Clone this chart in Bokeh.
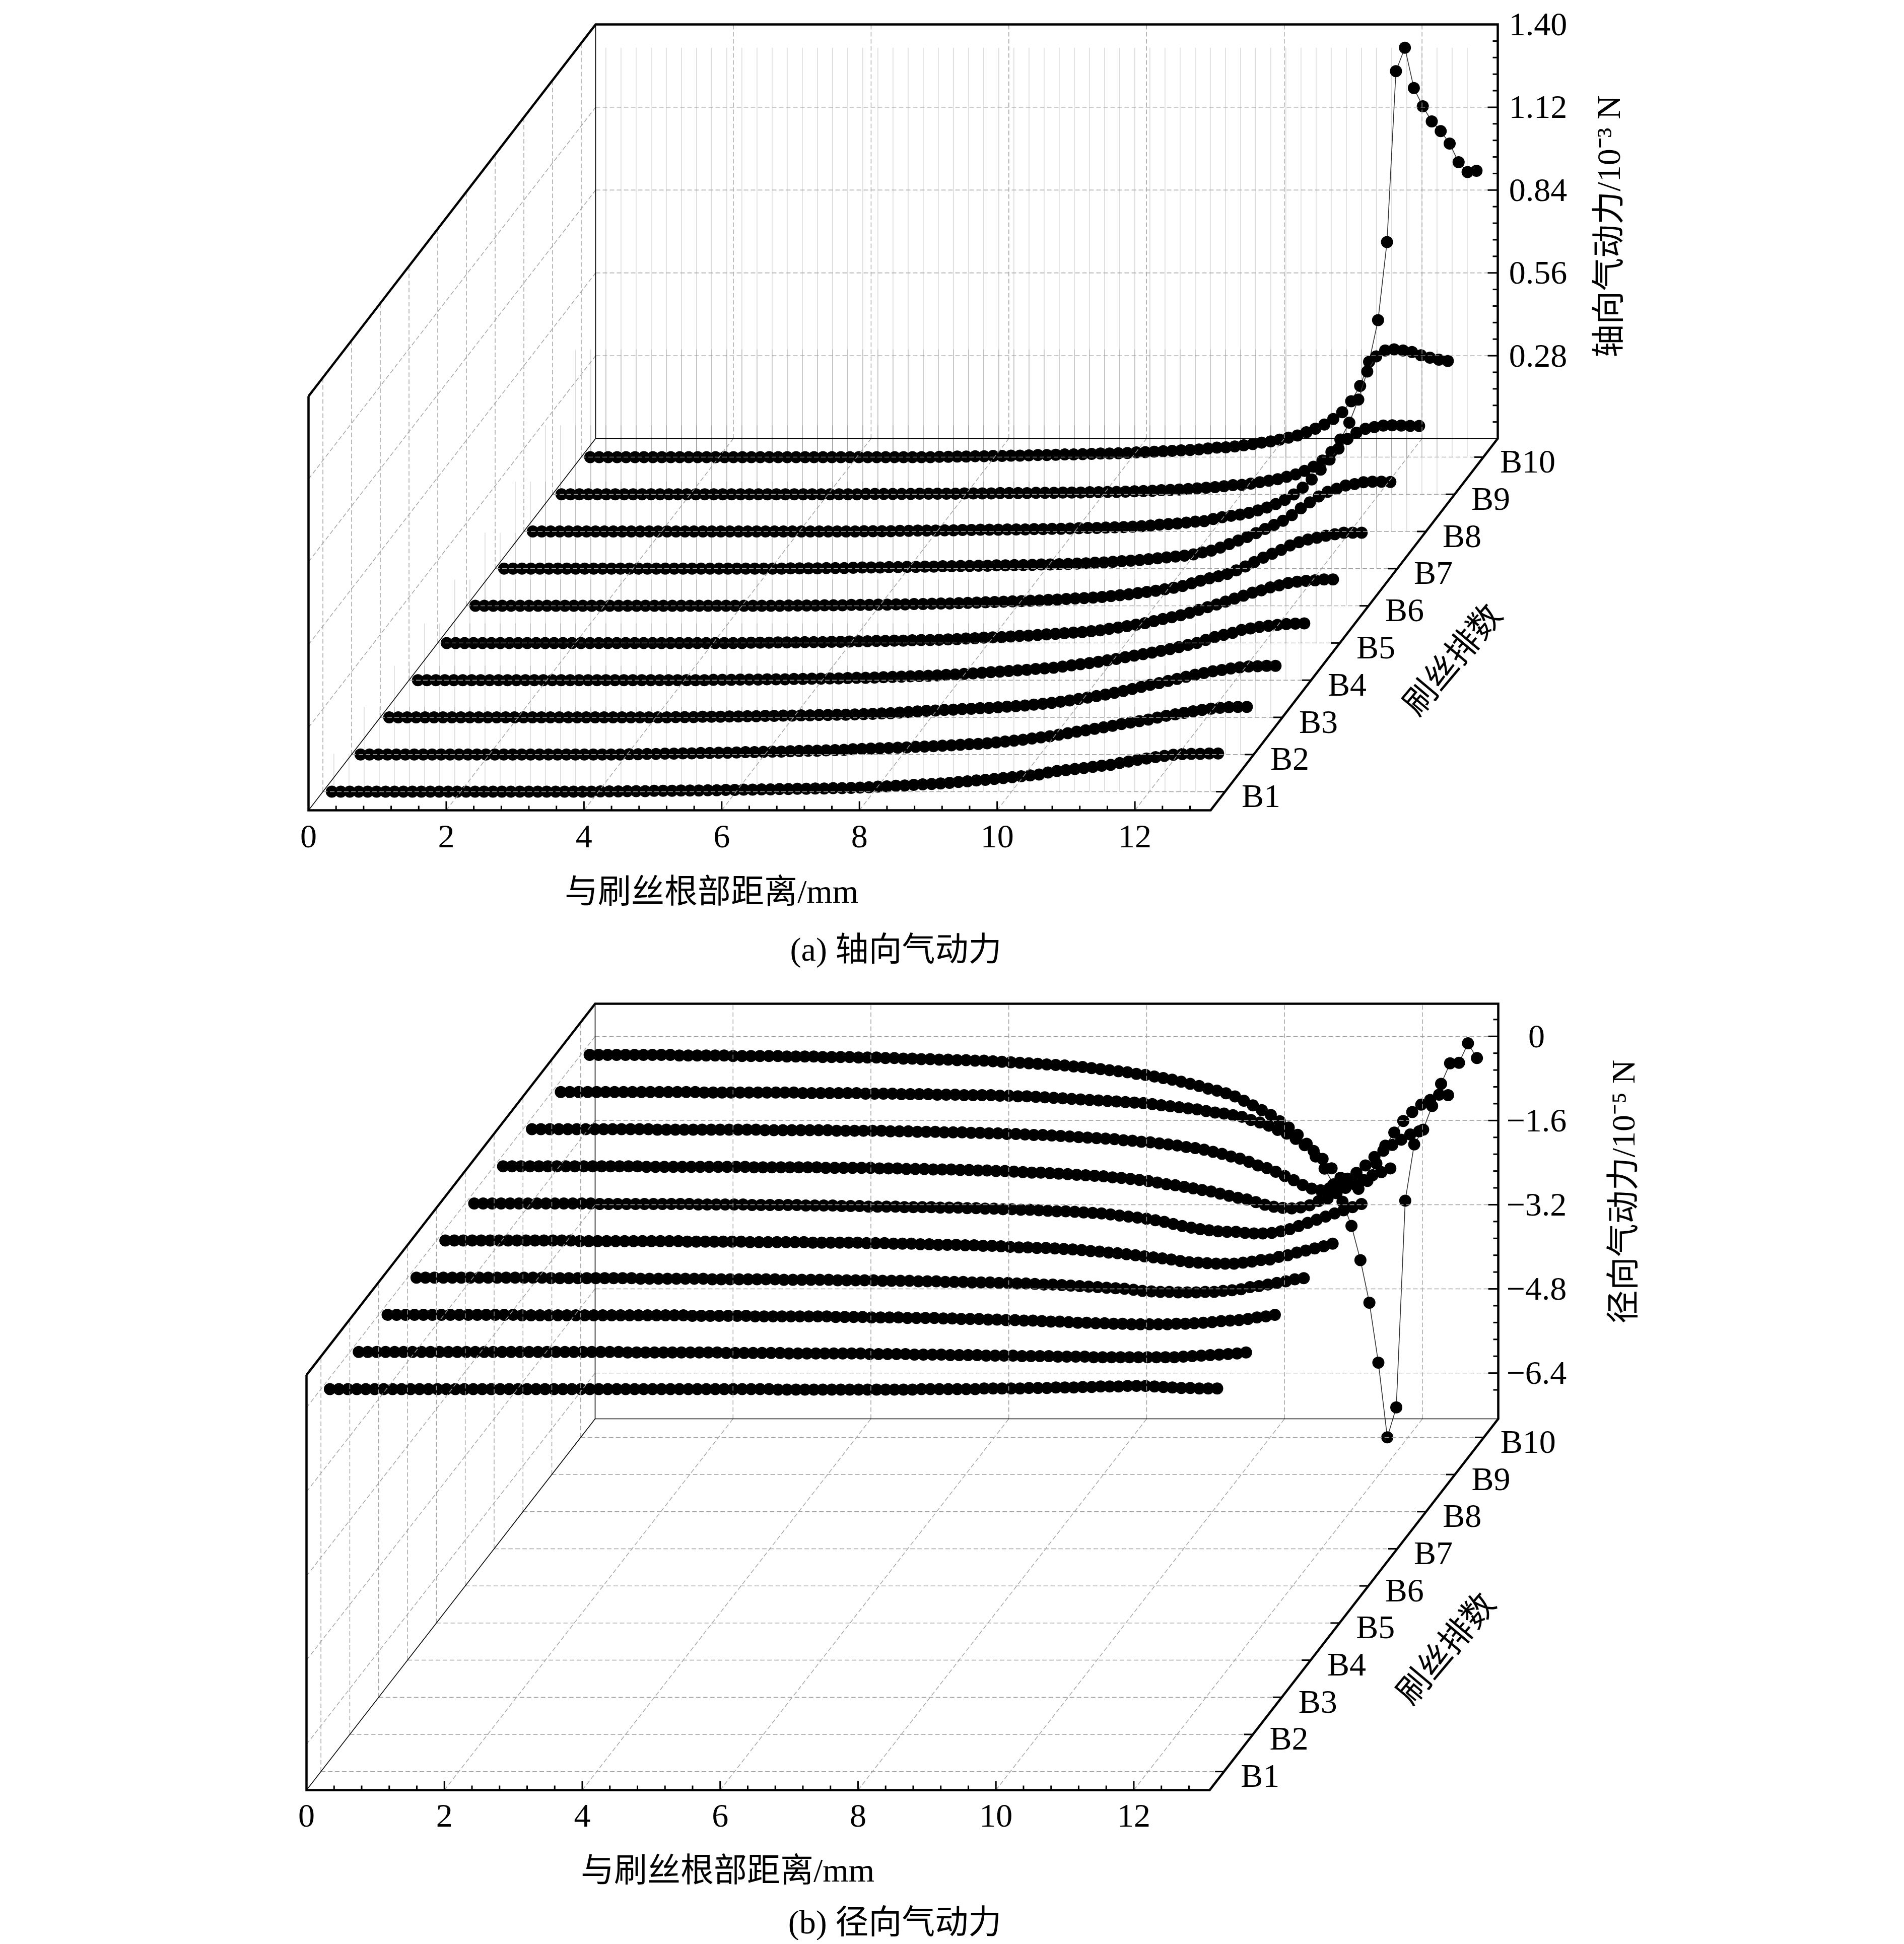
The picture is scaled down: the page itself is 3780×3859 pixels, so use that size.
import math
import numpy as np
from bokeh.plotting import figure
from bokeh.models import Range1d
from bokeh.core.properties import value
from bokeh.embed import file_html
from bokeh.resources import INLINE

# ---------- data ----------
x_mm = [round(0.13 * i, 2) for i in range(1, 101)]
rows = ["B1", "B2", "B3", "B4", "B5", "B6", "B7", "B8", "B9", "B10"]

# axial force, unit 1e-6 N
axial_B1 = [0]*30 + [1,1,1,2,2,2,3,3,3,4, 4,4,5,5,6,6,7,7,8,8, 9,9,10,10,11,11,12,12,13,14, 15,17,18,20,21,23,25,26,28,30, 33,35,38,40,43,46,49,52,55,58, 65,70,73,77,80,84,88,91,97,102, 108,112,117,121,125,127,128,128,129,129]
axial_B2 = [0]*30 + [1,1,2,2,3,3,4,4,5,5, 6,6,7,8,8,9,10,10,11,12, 13,13,14,15,16,18,19,20,21,22, 23,24,26,27,28,30,31,33,35,36, 38,41,44,47,50,54,58,62,67,72, 77,82,87,92,97,103,108,113,118,125, 131,136,141,146,151,155,158,160,161,161]
axial_B3 = [0]*30 + [0,0,1,1,1,2,2,2,3,3, 4,4,5,5,6,6,7,7,8,8, 9,9,10,11,12,13,14,16,18,20, 22,23,25,26,28,29,31,32,34,36, 38,40,43,46,49,53,57,62,67,72, 77,83,89,96,103,110,116,123,130,137, 144,150,156,160,165,169,172,173,174,174]
axial_B4 = [0]*30 + [0,0,0,1,1,1,2,2,2,3, 3,3,4,4,5,5,6,6,7,8, 8,9,10,11,12,13,14,15,16,18, 19,21,23,25,27,29,31,33,35,38, 40,42,46,50,54,58,62,67,72,78, 83,88,93,99,105,112,119,126,136,146, 153,160,170,175,180,184,187,190,191,192]
axial_B5 = [0]*30 + [0,0,0,0,1,1,1,2,2,2, 3,3,3,4,4,5,6,6,7,7, 8,8,9,10,10,11,12,13,15,16, 18,19,20,22,24,25,27,29,31,33, 35,37,40,43,48,52,57,62,67,74, 81,87,94,102,112,121,130,140,150,160, 170,178,188,195,203,207,210,212,215,215]
axial_B6 = [0]*30 + [0,0,0,0,0,1,1,1,1,2, 2,2,3,3,3,4,4,5,5,6, 6,7,8,8,9,10,11,12,13,14, 15,16,17,18,20,21,23,25,26,28, 30,33,36,39,43,47,51,56,61,67, 76,85,93,100,108,120,133,148,163,176, 189,204,215,224,230,237,242,247,247,247]
axial_B7 = [0]*30 + [0,0,1,1,1,1,2,2,2,3, 4,4,4,5,5,6,6,7,7,8, 8,9,9,10,10,11,11,12,12,13, 14,14,15,16,17,18,20,21,23,25, 27,29,32,35,38,41,44,48,55,61, 71,83,95,107,120,134,148,162,181,204, 224,244,260,270,281,286,292,294,294,293]
axial_B8 = [0]*30 + [0,0,0,0,0,0,0,1,1,1, 1,2,2,3,3,3,4,4,5,5, 6,6,6,7,7,7,8,8,9,9, 10,11,12,12,13,14,15,16,18,20, 23,25,27,30,33,35,42,48,53,57, 63,71,81,93,107,125,148,176,209,243, 280,313,334,347,353,358,359,358,357,357]
axial_B9 = [0]*30 + [0,0,0,0,1,1,1,1,1,1, 2,2,2,2,2,3,3,3,3,4, 4,4,4,5,5,5,6,6,6,7, 7,8,8,9,10,11,12,14,15,16, 18,20,22,24,27,31,32,36,41,46, 51,59,67,79,93,114,143,185,242,320, 415,466,486,490,486,481,470,462,455,451]
axial_B10 = [0]*30 + [0,0,0,0,0,0,0,0,0,1, 1,2,2,3,3,4,4,5,5,6, 7,7,8,9,9,10,11,12,12,13, 14,16,17,18,20,21,23,24,26,29, 32,33,36,40,44,49,53,59,66,73, 84,96,110,129,152,189,241,322,463,727, 1305,1384,1248,1186,1135,1102,1060,997,964,968]

# radial force, unit 1e-7 N
radial_B1 = [0]*50 + [-1,-1,-1,-1,-1,-1,-1,-1,-1,-1, -1,-1,-1,-1,-1,-1,0,0,0,0, 0,0,0,1,1,1,1,1,2,2, 2,3,3,3,4,4,5,5,5,6, 6,6,5,4,3,2,2,1,1,1]
radial_B2 = [0]*30 + [-1,-1,-1,-1,-1,-1,-1,-1,-1,-1, -1,-2,-2,-2,-2,-2,-2,-2,-3,-3, -3,-3,-3,-3,-3,-3,-3,-4,-4,-4, -4,-4,-5,-5,-5,-5,-6,-6,-6,-6, -7,-7,-7,-7,-8,-8,-8,-8,-9,-9, -9,-9,-10,-10,-10,-10,-10,-10,-10,-10, -10,-10,-9,-8,-7,-6,-5,-4,-3,-1]
radial_B3 = [0]*15 + [-1]*15 + [-1,-1,-1,-1,-2,-2,-2,-2,-2,-2, -2,-3,-3,-3,-3,-3,-3,-3,-3,-3, -4,-4,-4,-4,-5,-5,-5,-5,-6,-6, -6,-6,-7,-7,-8,-8,-8,-9,-9,-10, -10,-11,-11,-12,-13,-13,-14,-15,-15,-16, -16,-17,-17,-18,-18,-18,-18,-18,-17,-17, -16,-15,-14,-12,-11,-10,-8,-5,-3,0]
radial_B4 = [0]*15 + [-1,-1,-1,-1,-1, -1,-1,-1,-1,-1,-2,-2,-2,-2,-2, -2,-2,-2,-3,-3,-3,-3,-3,-3,-3, -3,-4,-4,-4,-4,-4,-4,-5,-5,-5, -5,-5,-6,-6,-6,-6,-7,-7,-7,-8, -8,-8,-9,-9,-9,-10,-10,-11,-11,-12, -13,-13,-14,-15,-16,-17,-18,-19,-20,-21, -23,-25,-26,-27,-27,-28,-28,-28,-27,-27, -25,-24,-22,-18,-16,-13,-10,-7,-3,-1]
radial_B5 = [0]*15 + [-1,-1,-1,-1,-1, -1,-1,-1,-1,-1,-1,-1,-2,-2,-2, -2,-2,-2,-2,-3,-3,-3,-3,-3,-3, -3,-4,-4,-4,-4,-4,-4,-5,-5,-5, -6,-6,-6,-7,-7,-8,-8,-8,-9,-9, -10,-10,-11,-12,-13,-13,-14,-14,-15,-16, -17,-18,-20,-21,-23,-24,-26,-28,-30,-32, -34,-36,-39,-41,-42,-43,-44,-44,-44,-42, -40,-37,-36,-31,-28,-23,-19,-15,-11,-6]
radial_B6 = [0]*14 + [-1]*6 + [-1,-1,-1,-1,-1,-2,-2,-2,-2,-2, -2,-3,-3,-3,-3,-3,-3,-4,-4,-4, -4,-5,-5,-5,-6,-6,-6,-6,-7,-7, -7,-7,-8,-8,-8,-9,-9,-10,-10,-11, -11,-12,-12,-13,-14,-15,-15,-16,-17,-18, -19,-21,-23,-25,-27,-29,-32,-35,-39,-43, -46,-49,-51,-53,-54,-54,-56,-57,-57,-56, -53,-49,-43,-37,-31,-25,-19,-13,-7,-1]
radial_B7 = [0]*16 + [-1]*12 + [-2,-2, -2,-2,-2,-2,-2,-2,-3,-3,-3,-3, -3,-3,-4,-4,-4,-5,-5,-5,-6,-6, -6,-7,-7,-8,-8,-9,-9,-10,-11,-12, -12,-13,-14,-15,-16,-17,-18,-19,-21,-22, -24,-26,-28,-31,-34,-36,-39,-42,-45,-48, -52,-56,-60,-63,-68,-73,-77,-79,-80,-78, -74,-66,-61,-51,-41,-34,-26,-17,-11,-4]
radial_B8 = [0]*14 + [-1]*12 + [-2,-2,-2,-2, -2,-2,-2,-2,-3,-3,-3,-3,-3,-3, -4,-4,-4,-5,-5,-5,-6,-6,-6,-7, -7,-8,-8,-9,-9,-10,-11,-11,-12,-13, -14,-15,-16,-17,-18,-19,-21,-22,-24,-25, -27,-29,-31,-34,-36,-39,-43,-47,-52,-56, -62,-69,-74,-81,-89,-97,-106,-113,-116,-112, -104,-94,-83,-69,-53,-41,-30,-20,-10,-4]
radial_B9 = [0]*16 + [-1,-1,-1,-1, -1,-1,-1,-1,-1,-1,-1,-2,-2,-2, -2,-2,-2,-2,-3,-3,-3,-3,-4,-4, -4,-4,-5,-5,-5,-6,-6,-6,-6,-7, -7,-8,-8,-9,-10,-11,-12,-13,-14,-15, -16,-17,-18,-19,-20,-21,-23,-25,-27,-29, -31,-33,-36,-39,-41,-44,-47,-53,-58,-64, -72,-79,-89,-101,-112,-127,-145,-163,-172,-184, -169,-136,-102,-77,-55,-38,-24,-15,-5,-6]
radial_B10 = [0]*10 + [-1,-1,-1,-1,-1,-1,-2,-2,-2,-2, -2,-2,-3,-3,-3,-3,-4,-4,-4,-4, -5,-5,-5,-6,-6,-7,-7,-8,-8,-9, -9,-10,-10,-11,-11,-12,-13,-14,-15,-16, -17,-18,-19,-20,-22,-23,-25,-27,-29,-31, -33,-36,-38,-41,-44,-47,-51,-55,-59,-64, -68,-73,-79,-87,-96,-105,-114,-126,-138,-152, -169,-193,-216,-246,-279,-325,-390,-471,-585,-727, -670,-277,-170,-142,-97,-55,-16,-15,22,-6]

axial = [axial_B1, axial_B2, axial_B3, axial_B4, axial_B5, axial_B6, axial_B7, axial_B8, axial_B9, axial_B10]
radial = [radial_B1, radial_B2, radial_B3, radial_B4, radial_B5, radial_B6, radial_B7, radial_B8, radial_B9, radial_B10]
for s in axial + radial:
    assert len(s) == 100, len(s)

x_ticks = [0, 2, 4, 6, 8, 10, 12]
axial_ticks = [0.28, 0.56, 0.84, 1.12, 1.40]
axial_labels = ["0.28", "0.56", "0.84", "1.12", "1.40"]
radial_ticks = [0, -1.6, -3.2, -4.8, -6.4]
radial_labels = ["0", "\u22121.6", "\u22123.2", "\u22124.8", "\u22126.4"]

# ---------- page and 3D frame ----------
FONT = value("Liberation Serif, Noto Sans CJK SC")
XMAX = 13.1
p = figure(width=3764, height=3851, output_backend="svg", toolbar_location=None,
           x_range=Range1d(0, 3764), y_range=Range1d(3851, 0),
           min_border=0, outline_line_color=None, background_fill_color="white")
p.axis.visible = False
p.xaxis.visible = False
p.yaxis.visible = False
p.grid.visible = False


class Panel:
    def __init__(s, x0, y0, wx, dx, dy, h, zmin, zmax):
        s.x0, s.y0, s.wx, s.dx, s.dy, s.h, s.zmin, s.zmax = x0, y0, wx, dx, dy, h, zmin, zmax

    def X(s, x, r):
        return s.x0 + x / XMAX * s.wx + (r - 0.5) / 10 * s.dx

    def Y(s, r, z):
        return s.y0 - (r - 0.5) / 10 * s.dy - (z - s.zmin) / (s.zmax - s.zmin) * s.h

    def pt(s, x, r, z):
        return s.X(x, r), s.Y(r, z)


def seg(P, a, b):
    pa = P.pt(*a)
    pb = P.pt(*b)
    return [pa[0], pb[0]], [pa[1], pb[1]]


def draw(P, series, scale, z_ticks, z_labels, z_minor, curtains, z_lab_x, x_lab_y):
    zmin, zmax = P.zmin, P.zmax
    R0, R1 = 0.5, 10.5
    # light drop lines of each row
    if curtains:
        xs, ys = [], []
        for k, s in enumerate(series):
            r = k + 1
            top = max(s) * scale
            start = 0.16 + (k * 60 - (P.X(0, r) - P.X(0, 1))) / (P.wx / XMAX)
            x = start
            while x <= 13.0:
                a = seg(P, (x, r, zmin), (x, r, top))
                xs.append(a[0]); ys.append(a[1])
                x += 30 / (P.wx / XMAX)
        p.multi_line(xs, ys, line_color="black", line_alpha=0.14, line_width=1.6)
    # rows, back to front
    for k in range(9, -1, -1):
        r = k + 1
        zs = [v * scale for v in series[k]]
        px = [P.X(x, r) for x in x_mm]
        py = [P.Y(r, z) for z in zs]
        p.line(px, py, line_color="#333333", line_width=1.6)
        p.scatter(px, py, size=24, marker="circle", fill_color="black", line_color=None)
    # dashed grids
    gx, gy = [], []
    for t in x_ticks[1:]:
        for a, b in [((t, R1, zmin), (t, R1, zmax)), ((t, R0, zmin), (t, R1, zmin))]:
            g = seg(P, a, b); gx.append(g[0]); gy.append(g[1])
    for r in range(1, 11):
        for a, b in [((0, r, zmin), (XMAX, r, zmin)), ((0, r, zmin), (0, r, zmax))]:
            g = seg(P, a, b); gx.append(g[0]); gy.append(g[1])
    for z in z_ticks:
        if z == zmax:
            continue
        for a, b in [((0, R1, z), (XMAX, R1, z)), ((0, R0, z), (0, R1, z))]:
            g = seg(P, a, b); gx.append(g[0]); gy.append(g[1])
    p.multi_line(gx, gy, line_color="#a0a0a0", line_width=1.4, line_dash="9 5")
    # thin frame edges
    tx, ty = [], []
    for a, b in [((0, R0, zmin), (0, R1, zmin)), ((0, R1, zmin), (XMAX, R1, zmin)), ((0, R1, zmin), (0, R1, zmax))]:
        g = seg(P, a, b); tx.append(g[0]); ty.append(g[1])
    p.multi_line(tx, ty, line_color="black", line_width=1.6)
    # thick outline
    corners = [(0, R0, zmax), (0, R1, zmax), (XMAX, R1, zmax), (XMAX, R1, zmin), (XMAX, R0, zmin), (0, R0, zmin), (0, R0, zmax)]
    p.line([P.X(c[0], c[1]) for c in corners], [P.Y(c[1], c[2]) for c in corners],
           line_color="black", line_width=4.5, line_join="miter")
    # ticks
    kx, ky = [], []
    for n in range(1, 33):
        t = n * 0.4
        ln = 18 if n % 5 == 0 else 9
        X, Y = P.pt(t, R0, zmin)
        kx.append([X, X]); ky.append([Y, Y - ln])
    for r in range(1, 11):
        X, Y = P.pt(XMAX, r, zmin)
        kx.append([X, X - 18]); ky.append([Y, Y])
    for z in z_minor:
        major = any(abs(z - q) < 1e-6 for q in z_ticks)
        X, Y = P.pt(XMAX, R1, z)
        kx.append([X, X - (20 if major else 10)]); ky.append([Y, Y])
    p.multi_line(kx, ky, line_color="black", line_width=3)
    # labels
    p.text([P.X(t, R0) for t in x_ticks], [x_lab_y] * len(x_ticks), text=[str(t) for t in x_ticks],
           text_font=FONT, text_font_size="66px", text_align="center", text_baseline="middle", text_color="black")
    p.text([z_lab_x] * len(z_ticks), [P.Y(R1, z) for z in z_ticks], text=z_labels,
           text_font=FONT, text_font_size="66px", text_align="center", text_baseline="middle", text_color="black")
    p.text([P.X(XMAX, r) + 33 for r in range(1, 11)], [P.Y(r, zmin) + 8 for r in range(1, 11)], text=rows,
           text_font=FONT, text_font_size="66px", text_align="left", text_baseline="middle", text_color="black")


def label(x, y, s, angle=0.0):
    p.text([x], [y], text=[s], angle=[angle], text_font=FONT, text_font_size="66px",
           text_align="center", text_baseline="middle", text_color="black")


A = Panel(612, 1608, 1791, 570, 738, 822, 0.0, 1.40)
B = Panel(608, 3553, 1793, 573, 737, 824, -7.27, 0.62)

draw(A, axial, 0.001, axial_ticks, axial_labels, [0.056 * n for n in range(1, 25)], True, 3053, 1660)
draw(B, radial, 0.01, radial_ticks, radial_labels, [0.32 - 0.32 * n for n in range(0, 23)], False, 3050, 3604)

label(1412, 1769, "与刷丝根部距离/mm")
label(1778, 1884, "(a) 轴向气动力")
label(3193, 449, "轴向气动力/10⁻³ N", math.pi / 2)
label(2883, 1309, "刷丝排数", math.radians(50))
label(1444, 3712, "与刷丝根部距离/mm")
label(1776, 3815, "(b) 径向气动力")
label(3222, 2365, "径向气动力/10⁻⁵ N", math.pi / 2)
label(2870, 3272, "刷丝排数", math.radians(50))

open("out.html", "w").write(file_html(p, INLINE))
